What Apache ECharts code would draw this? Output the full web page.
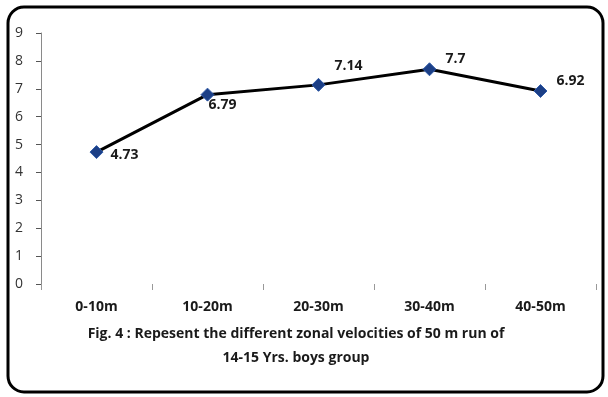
<!DOCTYPE html>
<html>
<head>
<meta charset="utf-8">
<script src="https://cdn.jsdelivr.net/npm/echarts@6/dist/echarts.min.js"></script>
<style>
  html, body { margin: 0; padding: 0; background: #fff; }
  #chart { width: 608px; height: 397px; }
</style>
</head>
<body>
<div id="chart"></div>
<script>
// Zones of the 50 m run and mean velocity in each zone
const zones = ['0-10m', '10-20m', '20-30m', '30-40m', '40-50m'];
const velocities = [4.73, 6.79, 7.14, 7.7, 6.92];
const yTicks = [0, 1, 2, 3, 4, 5, 6, 7, 8, 9];
// Where each value label sits relative to its marker
const labelPlacement = [
  { position: 'right', offset: [2, 3] },
  { position: 'right', offset: [-11, 10] },
  { position: 'top', offset: [30, 0] },
  { position: 'top', offset: [26, 9] },
  { position: 'top', offset: [30, 9] }
];
const captionLines = [
  'Fig. 4 : Repesent the different zonal velocities of 50 m run of',
  '14-15 Yrs. boys group'
];

const font = "'Open Sans', sans-serif";

const chart = echarts.init(document.getElementById('chart'), null, { renderer: 'canvas' });

const seriesData = velocities.map((v, i) => ({
  value: v,
  label: {
    show: true,
    position: labelPlacement[i].position,
    offset: labelPlacement[i].offset,
    formatter: String(v),
    fontFamily: font,
    fontWeight: 'bold',
    fontSize: 14,
    color: '#1a1a1a'
  }
}));

chart.setOption({
  animation: false,
  backgroundColor: '#ffffff',
  grid: { left: 41, right: 12, top: 33, bottom: 113, containLabel: false },
  xAxis: {
    type: 'category',
    data: zones,
    boundaryGap: true,
    axisLine: { show: false },
    axisTick: { show: true, length: 6, inside: false, lineStyle: { color: '#999', width: 1 } },
    axisLabel: {
      fontFamily: font, fontWeight: 'bold', fontSize: 14, color: '#1a1a1a', margin: 16
    }
  },
  yAxis: {
    type: 'value',
    min: yTicks[0],
    max: yTicks[yTicks.length - 1],
    interval: 1,
    splitLine: { show: false },
    axisLine: { show: true, lineStyle: { color: '#8a8a8a', width: 1 } },
    axisTick: { show: true, length: 5, lineStyle: { color: '#555', width: 1 } },
    axisLabel: {
      fontFamily: font, fontSize: 14, color: '#333', margin: 18,
      formatter: v => (yTicks.includes(v) ? String(v) : '')
    }
  },
  series: [{
    type: 'line',
    data: seriesData,
    symbol: 'diamond',
    symbolSize: 13,
    lineStyle: { color: '#000', width: 3 },
    itemStyle: { color: '#1c3f86', borderColor: '#2f5aa8', borderWidth: 1 },
    z: 3
  }],
  graphic: [
    {
      type: 'rect',
      shape: { x: 8, y: 7, width: 595, height: 385, r: 16 },
      style: { fill: 'none', stroke: '#000', lineWidth: 3 },
      silent: true,
      z: 10
    },
    {
      type: 'text',
      x: 296,
      y: 322,
      style: {
        text: captionLines.join('\n'),
        fontFamily: font,
        fontWeight: 'bold',
        fontSize: 14,
        lineHeight: 24,
        align: 'center',
        fill: '#1a1a1a'
      }
    }
  ]
});
</script>
</body>
</html>
